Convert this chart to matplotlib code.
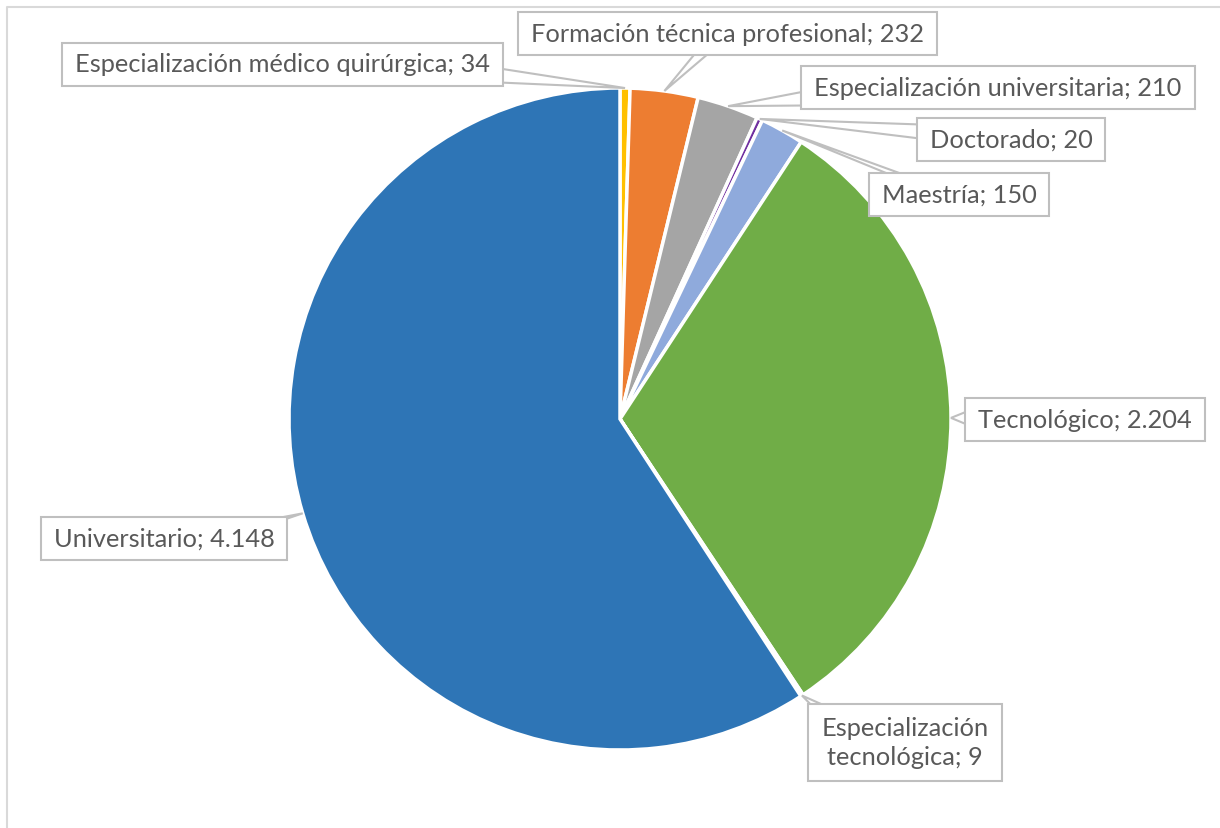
import numpy as np
import matplotlib
matplotlib.use("Agg")
import matplotlib.pyplot as plt
from matplotlib.patches import Polygon, Rectangle

plt.rcParams['font.family'] = ['Lato', 'DejaVu Sans']

# datos (orden horario desde arriba)
categorias = ['Especialización médico quirúrgica', 'Formación técnica profesional',
              'Especialización universitaria', 'Doctorado', 'Maestría',
              'Tecnológico', 'Especialización\ntecnológica', 'Universitario']
valores = [34, 232, 210, 20, 150, 2204, 9, 4148]
etiquetas_valor = ['34', '232', '210', '20', '150', '2.204', '9', '4.148']
colores = ['#FFC000', '#ED7D31', '#A5A5A5', '#7030A0', '#8FAADC',
           '#70AD47', '#264478', '#2E75B6']

# posiciones de las etiquetas (pixeles de la imagen, y hacia abajo)
pos_etiquetas = [(282, 65), (727, 34), (998, 88), (1011, 140), (959, 195),
                 (1085, 420), (905, 743), (164, 539)]

W, H = 1220, 829
cx, cy, R = 620, H - 420, 331

fig = plt.figure(figsize=(W / 100, H / 100), dpi=100)
ax = fig.add_axes([0, 0, 1, 1])
ax.set_xlim(0, W)
ax.set_ylim(0, H)
ax.axis('off')

wedges, _ = ax.pie(valores, colors=colores, startangle=90, counterclock=False,
                   center=(cx, cy), radius=R,
                   wedgeprops=dict(edgecolor='white', linewidth=2.5))
ax.set_xlim(0, W)
ax.set_ylim(0, H)
ax.set_aspect('equal')

# marco del area del grafico
ax.plot([7, 7, W + 5], [-5, H - 8, H - 8], color='#D9D9D9', lw=1.5, zorder=0)

textos = []
for cat, val, (x, y) in zip(categorias, etiquetas_valor, pos_etiquetas):
    t = ax.text(x, H - y, f'{cat}; {val}', ha='center', va='center',
                fontsize=18.3, color='#595959', zorder=6, linespacing=1.3)
    textos.append(t)

fig.canvas.draw()
renderer = fig.canvas.get_renderer()

total = sum(valores)
acum = 0
for v, t in zip(valores, textos):
    medio = (acum + v / 2) / total
    acum += v
    ang = np.deg2rad(90 - 360 * medio)
    tip = np.array([cx + R * np.cos(ang), cy + R * np.sin(ang)])
    ext = t.get_window_extent(renderer)
    nl = t.get_text().count('\n') + 1
    bw = ext.width + 26
    bh = 34 * nl + 9
    xc, yc = t.get_position()
    bx0, bx1 = xc - bw / 2, xc + bw / 2
    by0, by1 = yc - bh / 2, yc + bh / 2
    ax.add_patch(Rectangle((bx0, by0), bw, bh, fc='white', ec='#BFBFBF',
                           lw=1.5, zorder=5))
    # punto del borde de la caja en la direccion de la punta
    c = np.array([xc, yc])
    d = tip - c
    sx = (bw / 2) / abs(d[0]) if d[0] != 0 else np.inf
    sy = (bh / 2) / abs(d[1]) if d[1] != 0 else np.inf
    s = min(sx, sy)
    base = c + d * s
    if sx < sy:
        # lado vertical
        b0 = np.clip(base[1] - 7, by0 + 3, by1 - 17)
        p1 = (base[0] - np.sign(d[0]) * 3, b0)
        p2 = (base[0] - np.sign(d[0]) * 3, b0 + 14)
    else:
        b0 = np.clip(base[0] - 7, bx0 + 3, bx1 - 17)
        p1 = (b0, base[1] - np.sign(d[1]) * 3)
        p2 = (b0 + 14, base[1] - np.sign(d[1]) * 3)
    ax.add_patch(Polygon([p1, tuple(tip), p2], closed=True, fc='white',
                         ec='#BFBFBF', lw=1.5, zorder=4))

fig.savefig('out.png', dpi=100, facecolor='white')
